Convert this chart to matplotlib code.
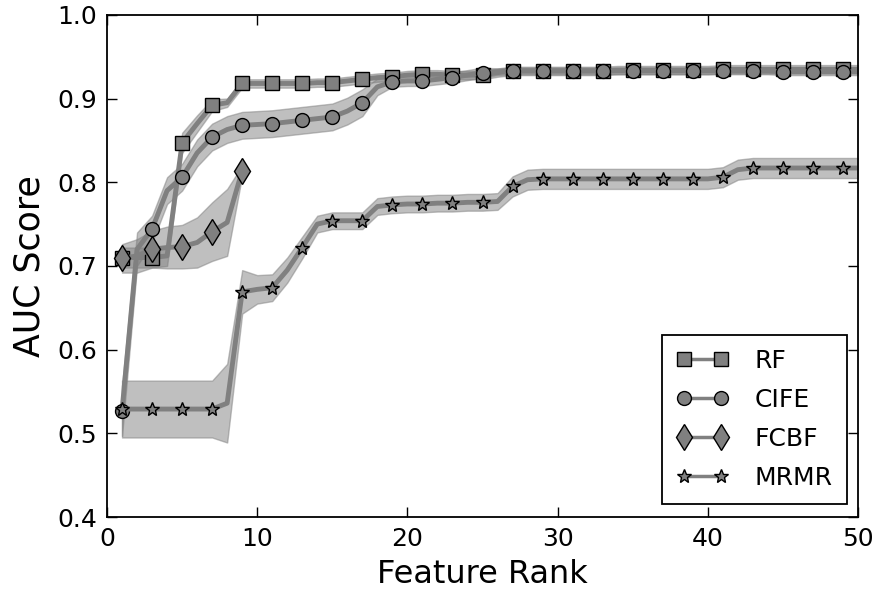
import numpy as np
import matplotlib
matplotlib.use("Agg")
import matplotlib.pyplot as plt
from matplotlib.lines import Line2D

# feature rank 1..50
rank = np.arange(1, 51)
fcbf_rank = np.arange(1, 10)

rf_mean = [0.710, 0.710, 0.710, 0.712, 0.847, 0.870, 0.892, 0.895, 0.918, 0.918,
           0.918, 0.918, 0.918, 0.919, 0.919, 0.921, 0.923, 0.925, 0.926, 0.928,
           0.929, 0.929, 0.928, 0.928, 0.928, 0.931, 0.933, 0.933, 0.933, 0.933,
           0.933, 0.933, 0.933, 0.934, 0.934, 0.934, 0.934, 0.934, 0.934, 0.934,
           0.935, 0.935, 0.935, 0.935, 0.935, 0.935, 0.935, 0.935, 0.935, 0.935]
rf_std = [0.012, 0.012, 0.012, 0.012, 0.012, 0.010, 0.007] + [0.005] * 43

cife_mean = [0.527, 0.720, 0.744, 0.790, 0.806, 0.835, 0.854, 0.863, 0.868, 0.869,
             0.870, 0.872, 0.874, 0.876, 0.878, 0.885, 0.895, 0.914, 0.920, 0.921,
             0.921, 0.923, 0.925, 0.928, 0.931, 0.932, 0.933, 0.933, 0.933, 0.933,
             0.933, 0.933, 0.933, 0.933, 0.933, 0.933, 0.933, 0.933, 0.933, 0.933,
             0.933, 0.933, 0.933, 0.933, 0.932, 0.932, 0.932, 0.932, 0.932, 0.932]
cife_std = [0.030, 0.020] + [0.016] * 15 + [0.010] + [0.006] * 7 + [0.004] * 25

fcbf_mean = [0.709, 0.712, 0.720, 0.722, 0.723, 0.728, 0.741, 0.752, 0.814]
fcbf_std = [0.017, 0.020, 0.022, 0.025, 0.026, 0.030, 0.035, 0.040, 0.006]

mrmr_mean = [0.529, 0.529, 0.529, 0.529, 0.529, 0.529, 0.529, 0.536, 0.669, 0.672,
             0.674, 0.695, 0.722, 0.750, 0.754, 0.754, 0.754, 0.771, 0.773, 0.774,
             0.774, 0.775, 0.775, 0.776, 0.776, 0.777, 0.795, 0.803, 0.804, 0.804,
             0.804, 0.804, 0.804, 0.804, 0.804, 0.804, 0.804, 0.804, 0.804, 0.804,
             0.806, 0.815, 0.817, 0.817, 0.817, 0.817, 0.817, 0.817, 0.817, 0.817]
mrmr_std = ([0.034] * 7 + [0.047, 0.026, 0.017, 0.016, 0.015, 0.013, 0.010]
            + [0.010] * 12 + [0.012] * 24)

series = [
    ("RF", rank, rf_mean, rf_std, "s", 10),
    ("CIFE", rank, cife_mean, cife_std, "o", 10),
    ("FCBF", fcbf_rank, fcbf_mean, fcbf_std, "d", 13),
    ("MRMR", rank, mrmr_mean, mrmr_std, "*", 10),
]

plt.rcParams['font.family'] = 'DejaVu Sans'
fig = plt.figure(figsize=(8.8, 5.94), dpi=100)
ax = fig.add_axes([0.1216, 0.1296, 0.8534, 0.8454])

handles = []
for name, x, m, s, mk, ms in series:
    m = np.array(m)
    s = np.array(s)
    ax.fill_between(x, m - s, m + s, facecolor='gray', edgecolor='gray',
                    alpha=0.5, lw=1)
    ax.plot(x, m, '-', color='gray', lw=3.5, marker=mk, markersize=ms,
            markevery=2, markerfacecolor='gray', markeredgecolor='black',
            markeredgewidth=1)
    handles.append(Line2D([], [], color='gray', lw=2.5, marker=mk, markersize=ms,
                          markerfacecolor='gray', markeredgecolor='black',
                          markeredgewidth=1))

ax.set_xlim(0, 50)
ax.set_ylim(0.4, 1.0)
ax.set_xticks([0, 10, 20, 30, 40, 50])
ax.set_yticks([0.4, 0.5, 0.6, 0.7, 0.8, 0.9, 1.0])
ax.tick_params(direction='in', top=True, right=True, length=7, width=1,
               labelsize=18, pad=7)
for sp in ax.spines.values():
    sp.set_linewidth(1.3)
ax.set_xlabel("Feature Rank", fontsize=23, labelpad=6)
ax.set_ylabel("AUC Score", fontsize=25, labelpad=8)

leg = ax.legend(handles, [s[0] for s in series], loc='lower right',
                numpoints=2, fontsize=18, fancybox=False, framealpha=1,
                edgecolor='black', borderpad=0.55, labelspacing=0.6,
                handlelength=2.1, handletextpad=1.05, borderaxespad=0,
                bbox_to_anchor=(0.985, 0.026))
leg.get_frame().set_linewidth(1.3)

fig.savefig("out.png", dpi=100)
